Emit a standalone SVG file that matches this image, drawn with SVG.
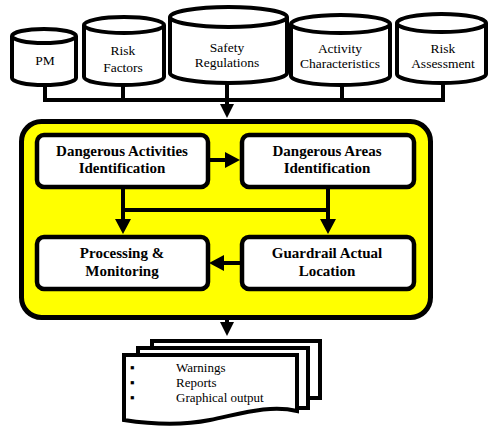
<svg xmlns="http://www.w3.org/2000/svg" width="489" height="428" viewBox="0 0 489 428">
<defs>
<style>
.cyl{fill:#fff;stroke:#000;stroke-width:4}
.box{fill:#fff;stroke:#000;stroke-width:4.5}
.ln{fill:none;stroke:#000;stroke-width:4}
.ah{fill:#000;stroke:none}
text{font-family:'Liberation Serif','Times New Roman','DejaVu Serif',serif;fill:#000}
.t{font-size:13.5px;text-anchor:middle}
.b{font-size:15px;font-weight:bold;text-anchor:middle}
.d{font-size:13px}
.page{fill:#fff;stroke:#000;stroke-width:4}
</style>
</defs>
<rect width="489" height="428" fill="#fff"/>

<g id="system">
<rect x="21.5" y="121.5" width="409" height="196" rx="20" fill="#ffff00" stroke="#000" stroke-width="5"/>
</g>

<g id="connectors">
<path class="ln" d="M45,85V100H443V83M123,85V100M342,85V100M227,83V106"/>
<polygon class="ah" points="220,104 234,104 227,118"/>
<path class="ln" d="M209,160H227"/>
<polygon class="ah" points="225,152 225,168 240,160"/>
<path class="ln" d="M123,188V220M123,210H328M328,188V220"/>
<polygon class="ah" points="115,219 131,219 123,234"/>
<polygon class="ah" points="320,219 336,219 328,234"/>
<path class="ln" d="M240,263H222"/>
<polygon class="ah" points="224,255 224,271 209,263"/>
<path class="ln" d="M227,320V324"/>
<polygon class="ah" points="220,322 234,322 227,336"/>
</g>

<g id="pm">
<path class="cyl" d="M12,36V78A32,7 0 0 0 76,78V36"/>
<ellipse class="cyl" cx="44" cy="36" rx="32" ry="7"/>
<text class="t" x="45" y="65">PM</text>
</g>
<g id="risk-factors">
<path class="cyl" d="M84,25V77A40,8 0 0 0 164,77V25"/>
<ellipse class="cyl" cx="124" cy="25" rx="40" ry="8"/>
<text class="t" x="123" y="55">Risk</text>
<text class="t" x="123" y="72">Factors</text>
</g>
<g id="safety-regulations">
<path class="cyl" d="M170,17V73A58.5,10 0 0 0 287,73V17"/>
<ellipse class="cyl" cx="228.5" cy="17" rx="58.5" ry="10"/>
<text class="t" x="227" y="52">Safety</text>
<text class="t" x="227" y="67">Regulations</text>
</g>
<g id="activity-characteristics">
<path class="cyl" d="M291,24V76A49.5,9 0 0 0 390,76V24"/>
<ellipse class="cyl" cx="340.5" cy="24" rx="49.5" ry="9"/>
<text class="t" x="340" y="53">Activity</text>
<text class="t" x="340" y="68">Characteristics</text>
</g>
<g id="risk-assessment">
<path class="cyl" d="M397,23V74A44.5,9 0 0 0 486,74V23"/>
<ellipse class="cyl" cx="441.5" cy="23" rx="44.5" ry="9"/>
<text class="t" x="443" y="53">Risk</text>
<text class="t" x="443" y="68">Assessment</text>
</g>

<g id="dangerous-activities">
<rect class="box" x="37" y="135" width="171" height="52" rx="7"/>
<text class="b" x="122" y="156">Dangerous Activities</text>
<text class="b" x="122" y="173">Identification</text>
</g>
<g id="dangerous-areas">
<rect class="box" x="242" y="135" width="172" height="52" rx="7"/>
<text class="b" x="327" y="156">Dangerous Areas</text>
<text class="b" x="327" y="173">Identification</text>
</g>
<g id="processing">
<rect class="box" x="37" y="237" width="171" height="52" rx="7"/>
<text class="b" x="122" y="258">Processing &amp;</text>
<text class="b" x="122" y="276">Monitoring</text>
</g>
<g id="guardrail">
<rect class="box" x="242" y="237" width="172" height="52" rx="7"/>
<text class="b" x="327" y="258">Guardrail Actual</text>
<text class="b" x="327" y="276">Location</text>
</g>

<g id="outputs">
<path class="page" d="M152,346V341H320V398H305"/>
<path class="page" d="M138,353V348H308V408H294"/>
<path class="page" d="M124,355H297V411C270,404 240,414 210,420C180,426 150,424 124,420Z"/>
<text class="d" x="130" y="372">▪</text>
<text class="d" x="130" y="387">▪</text>
<text class="d" x="130" y="402">▪</text>
<text class="d" x="176" y="372">Warnings</text>
<text class="d" x="176" y="387">Reports</text>
<text class="d" x="176" y="402">Graphical output</text>
</g>
</svg>
